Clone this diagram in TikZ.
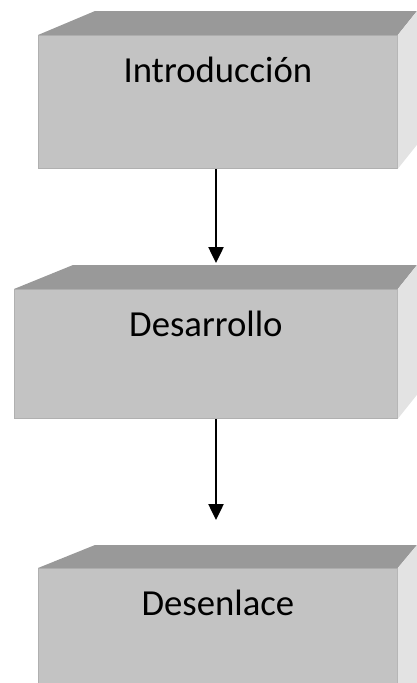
\documentclass[tikz,border=0pt]{standalone}
\usepackage{fontspec}
\setmainfont{Carlito}
\usetikzlibrary{arrows.meta}
\definecolor{frontc}{HTML}{C3C3C3}
\definecolor{topc}{HTML}{999999}
\definecolor{sidec}{HTML}{E3E3E3}
\definecolor{edgec}{HTML}{B0B0B0}
\tikzset{
  front/.style={rectangle, fill=frontc, draw=edgec, line width=0.8pt, inner sep=0pt, anchor=north west, minimum width=359pt},
  topface/.style={fill=topc, draw=none},
  sideface/.style={fill=sidec, draw=none},
  txt/.style={inner sep=0pt, font=\fontsize{36.7}{44}\selectfont, text=black},
  arr/.style={line width=2.5pt, -{Triangle[length=16pt,width=15pt]}}
}
\begin{document}
\begin{tikzpicture}[x=1pt,y=-1pt]
\useasboundingbox (0,0) rectangle (417,683);
% box 1
\node[front, minimum height=133pt] (b1) at (38,35) {};
\coordinate (b1bl) at (95,11);
\coordinate (b1br) at (417,11);
\fill[topface] (b1.north west) -- (b1bl) -- (b1br) -- (b1.north east) -- cycle;
\fill[sideface] (b1.north east) -- (b1br) -- ([yshift=24pt]b1.south east -| b1br) -- (b1.south east) -- cycle;
\node[txt] (t1) at ([yshift=-35pt]b1.north) {Introducción};
% box 2
\node[front, minimum width=383pt, minimum height=129pt] (b2) at (14,289) {};
\coordinate (b2bl) at (73,265);
\coordinate (b2br) at (417,265);
\fill[topface] (b2.north west) -- (b2bl) -- (b2br) -- (b2.north east) -- cycle;
\fill[sideface] (b2.north east) -- (b2br) -- ([yshift=24pt]b2.south east -| b2br) -- (b2.south east) -- cycle;
\node[txt] (t2) at ([yshift=-35pt]b2.north) {Desarrollo};
% box 3
\node[front, minimum height=130pt] (b3) at (38,568) {};
\coordinate (b3bl) at (95,545);
\coordinate (b3br) at (417,545);
\fill[topface] (b3.north west) -- (b3bl) -- (b3br) -- (b3.north east) -- cycle;
\fill[sideface] (b3.north east) -- (b3br) -- (417,683) -- (b3.north east |- 0,683) -- cycle;
\node[txt] (t3) at ([yshift=-35pt]b3.north) {Desenlace};
% arrows
\coordinate (a1end) at (216,263);
\coordinate (a2end) at (216,520);
\draw[arr] (b1.south -| a1end) -- (a1end);
\draw[arr] (b2.south -| a2end) -- (a2end);
\end{tikzpicture}
\end{document}
